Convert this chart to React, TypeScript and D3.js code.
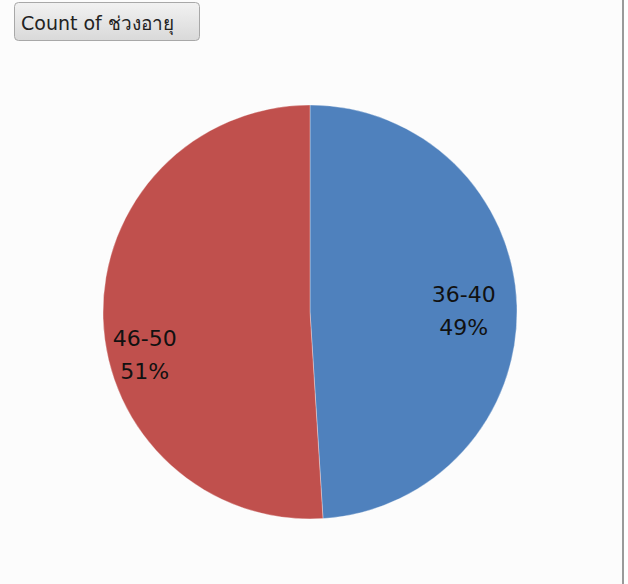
import React from "react";
import * as d3 from "d3";

const categories = ["36-40", "46-50"];
const counts = [49, 51];
const colors = ["#4f81bd", "#c0504d"];
const buttonLabel = "Count of ช่วงอายุ";

const W = 628;
const H = 584;
const cx = 310;
const cy = 312;
const R = 207;
// label placement (layout, not data)
const labelRadius = [154, 169];
const labelAngleShift = [-0.027, -0.18];

export default function App() {
  const pie = d3
    .pie<number>()
    .sort(null)
    .value((d) => d);
  const arcs = pie(counts);
  const total = d3.sum(counts);
  const arcGen = d3.arc<d3.PieArcDatum<number>>().innerRadius(0).outerRadius(R);

  return (
    <svg
      width={W}
      height={H}
      style={{ position: "absolute", left: 0, top: 0, background: "#ffffff" }}
    >
      <defs>
        <linearGradient id="btn" x1="0" y1="0" x2="0" y2="1">
          <stop offset="0" stopColor="#f2f2f2" />
          <stop offset="1" stopColor="#d9d9d9" />
        </linearGradient>
      </defs>
      <rect x={0} y={0} width={622} height={H} fill="#fcfcfc" />
      <rect x={622} y={0} width={2} height={H} fill="#9a9a9a" />
      <rect
        x={14.5}
        y={2.5}
        width={185}
        height={38}
        rx={4}
        fill="url(#btn)"
        stroke="#a8a8a8"
      />
      <text
        x={21}
        y={30}
        fontFamily="Tahoma, 'DejaVu Sans', 'Noto Sans', sans-serif"
        fontSize={19}
        fill="#222"
      >
        {buttonLabel}
      </text>
      <g transform={`translate(${cx},${cy})`}>
        {arcs.map((a, i) => (
          <path
            key={categories[i]}
            d={arcGen(a) || ""}
            fill={colors[i]}
            stroke="#ffffff"
            strokeOpacity={0.4}
            strokeWidth={0.8}
          />
        ))}
        {arcs.map((a, i) => {
          const mid = (a.startAngle + a.endAngle) / 2 + labelAngleShift[i];
          const r = labelRadius[i];
          const x = Math.sin(mid) * r;
          const y = -Math.cos(mid) * r;
          const pct = Math.round((counts[i] / total) * 100) + "%";
          return (
            <text
              key={"l" + i}
              x={x}
              y={y}
              textAnchor="middle"
              fontFamily="'DejaVu Sans', sans-serif"
              fontSize={22}
              fill="#111"
            >
              <tspan x={x} dy={-1}>
                {categories[i]}
              </tspan>
              <tspan x={x} dy={33}>
                {pct}
              </tspan>
            </text>
          );
        })}
      </g>
    </svg>
  );
}
